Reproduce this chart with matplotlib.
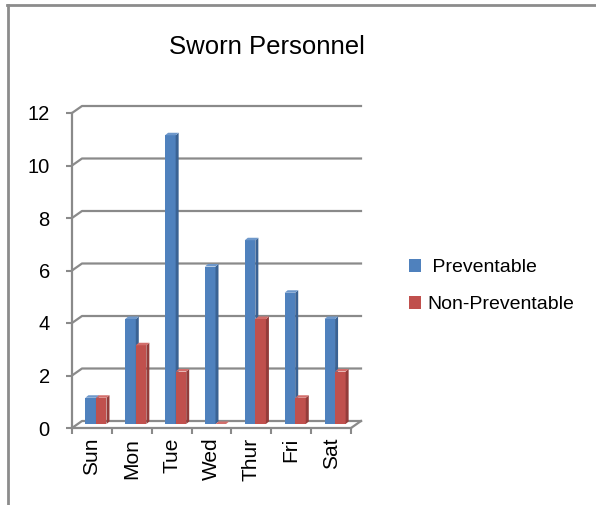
import matplotlib
matplotlib.use('Agg')
import matplotlib.pyplot as plt
from matplotlib.patches import Polygon, Patch
from matplotlib.lines import Line2D
import matplotlib.transforms as mtrans

# ---- data ----
days = ['Sun', 'Mon', 'Tue', 'Wed', 'Thur', 'Fri', 'Sat']
preventable = [1, 4, 11, 6, 7, 5, 4]
non_preventable = [1, 3, 2, 0, 4, 1, 2]
series_names = ['Preventable', 'Non-Preventable']
yticks = [0, 2, 4, 6, 8, 10, 12]
title = 'Sworn Personnel'

# ---- styles ----
W, H, DPI = 596, 505, 100
REG = ['Liberation Sans', 'DejaVu Sans']
GRID = '#8A8A8A'
front_cols = ['#4F81BD', '#C0504D']
side_cols = ['#3A6293', '#933C3A']
top_cols = ['#6E98CB', '#D26E6B']

fig = plt.figure(figsize=(W / DPI, H / DPI), dpi=DPI)
fig.patch.set_facecolor('white')

def fx(px):
    return px / W

def fy(py):
    return 1 - py / H

ax_l, ax_r, ax_t, ax_b = 72, 351, 113, 428
ax = fig.add_axes([fx(ax_l), fy(ax_b), (ax_r - ax_l) / W, (ax_b - ax_t) / H])
ax.set_xlim(0, len(days))
ax.set_ylim(yticks[0], yticks[-1])
ax.patch.set_visible(False)
for s in ['top', 'right']:
    ax.spines[s].set_visible(False)
for s in ['left', 'bottom']:
    ax.spines[s].set_color(GRID)
    ax.spines[s].set_linewidth(1.6)

# ticks
ax.set_yticks(yticks)
ax.set_yticklabels([str(v) for v in yticks], family=REG, fontsize=14.5)
ax.tick_params(axis='y', length=4, width=1.5, color=GRID, pad=12)
ax.set_xticks(range(len(days) + 1))
ax.set_xticklabels([])
ax.tick_params(axis='x', which='major', length=4, width=1.5, color=GRID)
ax.set_xticks([i + 0.5 for i in range(len(days))], minor=True)
ax.set_xticklabels(days, minor=True, rotation=90, family=REG, fontsize=15,
                   va='top', ha='center')
ax.tick_params(axis='x', which='minor', length=0, pad=7)

def dp(x, y, ox=0.0, oy=0.0):
    X, Y = ax.transData.transform((x, y))
    return tuple(ax.transData.inverted().transform((X + ox, Y + oy)))

# back wall offset (pixels)
BX, BY = 10, 7
for v in yticks:
    p0 = dp(0, v)
    p1 = dp(0, v, BX, BY)
    p2 = dp(len(days), v, BX, BY)
    ax.add_line(Line2D([p0[0], p1[0], p2[0]], [p0[1], p1[1], p2[1]],
                       color=GRID, lw=1.6, clip_on=False, zorder=1))
# floor right edge
q0 = dp(len(days), 0)
q1 = dp(len(days), 0, BX, BY)
ax.add_line(Line2D([q0[0], q1[0]], [q0[1], q1[1]], color=GRID, lw=1.6,
                   clip_on=False, zorder=1))

# bars
OX, OY = 4, 4      # bar front plane offset
DX, DY = 3, 2.5    # bar depth
bw = 0.265
off = mtrans.ScaledTranslation(OX / DPI, OY / DPI, fig.dpi_scale_trans)
series = [preventable, non_preventable]
z = 3
for i in range(len(days)):
    for k, vals in enumerate(series):
        xl = i + 0.5 - bw + k * bw
        h = vals[i]
        ax.bar([xl], [h], width=bw, align='edge', color=front_cols[k],
               linewidth=0, transform=ax.transData + off, zorder=z,
               clip_on=False)
        xr = xl + bw
        side = [dp(xr, 0, OX, OY), dp(xr, h, OX, OY),
                dp(xr, h, OX + DX, OY + DY), dp(xr, 0, OX + DX, OY + DY)]
        ax.add_patch(Polygon(side, closed=True, fc=side_cols[k], ec='none',
                             zorder=z, clip_on=False))
        top = [dp(xl, h, OX, OY), dp(xr, h, OX, OY),
               dp(xr, h, OX + DX, OY + DY), dp(xl, h, OX + DX, OY + DY)]
        ax.add_patch(Polygon(top, closed=True, fc=top_cols[k], ec='none',
                             zorder=z, clip_on=False))
        z += 1

# legend
leg_handles = [Patch(fc=front_cols[0], ec='none'), Patch(fc=front_cols[1], ec='none')]
ax.legend(leg_handles, [' ' + series_names[0], series_names[1]],
          loc='center left', bbox_to_anchor=(fx(409), fy(286)),
          bbox_transform=fig.transFigure, frameon=False,
          prop={'family': REG, 'size': 14},
          handlelength=0.62, handleheight=0.7, handletextpad=0.3,
          labelspacing=1.0, borderpad=0, borderaxespad=0)

# title
fig.text(fx(266.5), fy(54), title, ha='center', va='baseline',
         family=REG, fontsize=18.5)

# chart frame
fig.add_artist(Line2D([fx(7), 1], [fy(4.5), fy(4.5)], transform=fig.transFigure,
                      color='#8C8C8C', lw=2))
fig.add_artist(Line2D([fx(8), fx(8)], [fy(4.5), 0], transform=fig.transFigure,
                      color='#8C8C8C', lw=2))

fig.savefig('out.png', dpi=DPI)
